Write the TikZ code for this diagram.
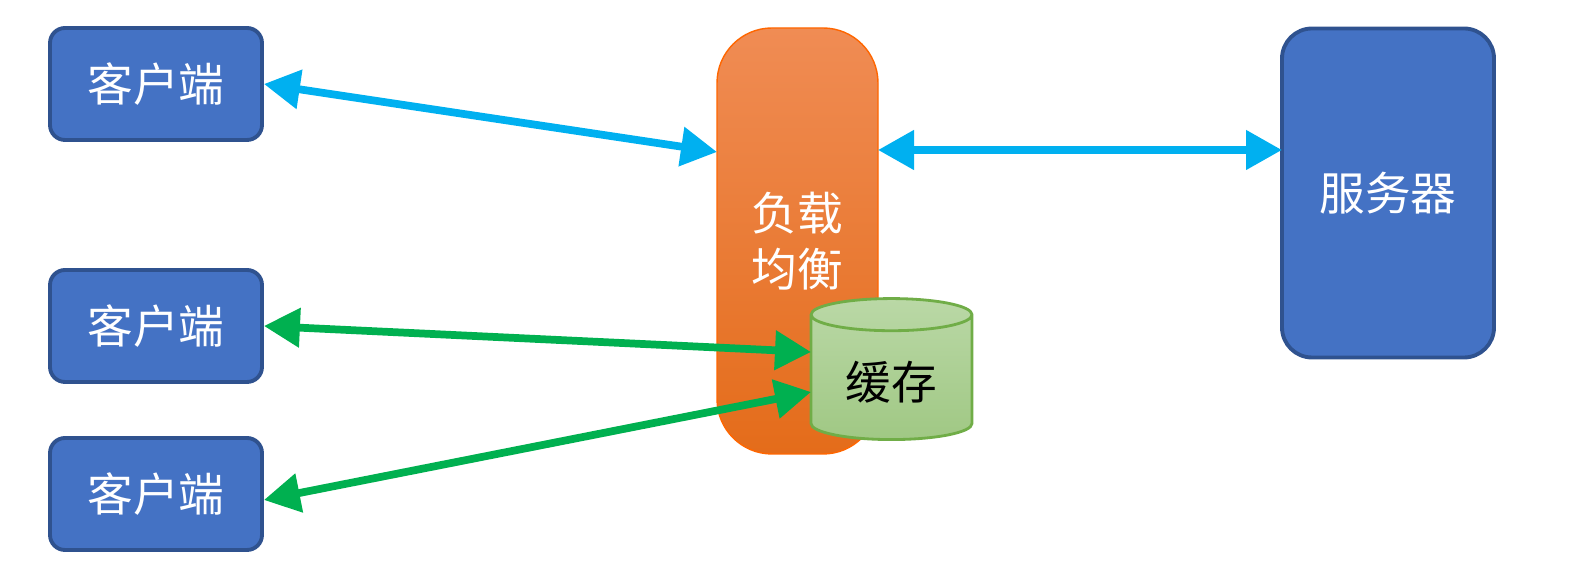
\documentclass[tikz,border=0pt]{standalone}
\usepackage{fontspec}
\newfontfamily\cjk{Noto Sans CJK SC}
\usetikzlibrary{shapes.geometric,arrows.meta,positioning}
\definecolor{boxblue}{HTML}{4472C4}
\definecolor{boxedge}{HTML}{2F528F}
\definecolor{linkcyan}{HTML}{00B0F0}
\definecolor{linkgreen}{HTML}{00B050}
\tikzset{
  client/.style={draw=boxedge, line width=1.1pt, fill=boxblue, rounded corners=0.15cm,
    minimum width=2.12cm, minimum height=1.12cm, text=white, font=\cjk\fontsize{13}{16}\selectfont},
  link/.style={<->, line width=2.2pt, >={Stealth[length=0.36cm, width=0.38cm, inset=0pt]}}
}
\begin{document}
\begin{tikzpicture}[x=1cm,y=1cm]
    \useasboundingbox (0,0) rectangle (15.82,5.81);
    % the clients
    \node[client] (c1) at (1.56,4.97) {客户端};
    \node[client] (c2) at (1.56,2.55) {客户端};
    \node[client] (c3) at (1.56,0.87) {客户端};
    % the server
    \node[client, rounded corners=0.3cm, minimum height=3.29cm] (srv) at (13.88,3.88) {服务器};
    % the load balancer
    \node[draw=orange!80!red, top color={rgb,255:red,240;green,140;blue,84}, bottom color={rgb,255:red,228;green,108;blue,26},
      rounded corners=0.55cm, minimum width=1.61cm, minimum height=4.26cm, text=white,
      font=\cjk\fontsize{13}{18}\selectfont, align=center] (lb) at (7.975,3.40) {负载\\[-2pt]均衡};
    % the cache
    \node[cylinder, shape border rotate=90, draw={rgb,255:red,112;green,173;blue,71}, line width=0.8pt,
      top color={rgb,255:red,186;green,216;blue,166}, bottom color={rgb,255:red,160;green,200;blue,132},
      minimum width=1.61cm, minimum height=1.41cm, font=\cjk\fontsize{13}{16}\selectfont,
      shape aspect=0.28] (cache) at (8.915,1.99) {\raisebox{-6pt}{缓存}};
    % the points where the arrows meet
    \coordinate (lbin) at (7.17,4.29);
    \coordinate (lbout) at (8.78,4.31);
    \coordinate (srvin) at (12.82,4.31);
    \coordinate (cin2) at (8.11,2.29);
    \coordinate (cin3) at (8.11,1.89);
    % draw the arrows
    \draw[link, linkcyan] (c1.east) -- (lbin);
    \draw[link, linkcyan] (lbout) -- (srvin);
    \draw[link, linkgreen] (c2.east) -- (cin2);
    \draw[link, linkgreen] ([yshift=-0.06cm]c3.east) -- (cin3);
\end{tikzpicture}
\end{document}
